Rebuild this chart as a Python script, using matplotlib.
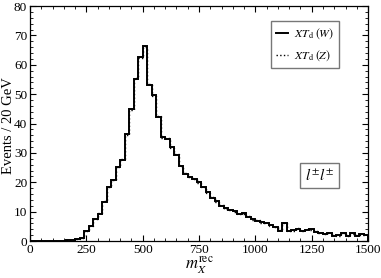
import matplotlib

matplotlib.use("Agg")
import matplotlib.pyplot as plt  # noqa: E402
import numpy as np  # noqa: E402
from matplotlib.ticker import MultipleLocator  # noqa: E402

# 20 GeV bins from 0 to 1500
bin_width = 20
bin_edges = np.arange(0, 1500 + bin_width, bin_width)

# XT_d (W)
events_w = [
    0, 0, 0, 0, 0, 0, 0, 0,
    0.2, 0.4, 0.8, 1.1, 3.5, 5.0, 7.6, 9.2, 13.3, 18.5, 20.7, 25.3, 27.6,
    36.5, 44.8, 55.2, 62.6, 66.4, 53.2, 49.6, 42.3, 35.3, 34.8, 32.0, 29.4,
    25.6, 22.8, 21.9, 21.0, 20.0, 18.3, 16.6, 14.7, 13.5, 12.0, 11.1, 10.5,
    10.2, 9.1, 9.5, 8.3, 7.5, 6.9, 6.4, 6.0, 5.4, 4.7, 3.4, 6.2, 3.3, 3.7,
    4.1, 3.5, 3.8, 4.0, 3.2, 2.8, 2.3, 2.8, 1.8, 2.0, 2.6, 1.8, 2.6, 1.8,
    2.4, 2.0,
]
# XT_d (Z), almost on top of the W curve
events_z = [
    0, 0, 0, 0, 0, 0, 0, 0,
    0.2, 0.4, 0.8, 1.2, 3.3, 5.2, 7.4, 9.4, 13.6, 18.3, 20.9, 25.1, 27.8,
    36.2, 44.6, 55.4, 62.4, 66.2, 53.4, 49.4, 42.5, 35.1, 35.0, 31.8, 29.6,
    25.4, 23.0, 21.7, 21.2, 19.8, 18.5, 16.4, 14.9, 13.3, 12.2, 10.9, 10.7,
    10.0, 9.3, 9.3, 8.5, 7.3, 7.1, 6.2, 6.2, 5.2, 4.9, 3.6, 6.0, 3.5, 3.5,
    4.3, 3.3, 4.0, 3.8, 3.4, 2.6, 2.5, 2.6, 2.0, 1.8, 2.8, 1.6, 2.4, 2.0,
    2.2, 2.2,
]

plt.rcParams["font.family"] = "serif"
plt.rcParams["font.serif"] = ["Liberation Serif", "DejaVu Serif"]
plt.rcParams["mathtext.fontset"] = "stix"

fig = plt.figure(figsize=(3.81, 2.78), dpi=100)
ax = fig.add_axes([0.0787, 0.133, 0.8873, 0.845])

ax.stairs(events_z, bin_edges, color="black", linewidth=1.0, linestyle=":",
          label=r"$XT_{\rm d}\;(Z)$")
ax.stairs(events_w, bin_edges, color="black", linewidth=1.4,
          label=r"$XT_{\rm d}\;(W)$")

ax.set_xlim(0, 1500)
ax.set_ylim(0, 80)
ax.xaxis.set_major_locator(MultipleLocator(250))
ax.xaxis.set_minor_locator(MultipleLocator(50))
ax.yaxis.set_major_locator(MultipleLocator(10))
ax.yaxis.set_minor_locator(MultipleLocator(2))
ax.tick_params(which="both", direction="in", top=True, right=True, labelsize=9.5, pad=2)
ax.tick_params(which="major", length=4, width=0.8)
ax.tick_params(which="minor", length=2, width=0.6)
for spine in ax.spines.values():
    spine.set_linewidth(0.9)

ax.set_ylabel("Events / 20 GeV", fontsize=10.5)
ax.yaxis.set_label_coords(-0.043, 0.49)
ax.set_xlabel(r"$m_X^{\rm rec}$", fontsize=12, labelpad=-1)

handles, labels = ax.get_legend_handles_labels()
leg = ax.legend(handles[::-1], labels[::-1], loc="upper right",
                bbox_to_anchor=(0.915, 0.935), fontsize=8.5, frameon=True,
                fancybox=False, edgecolor="#777777", framealpha=1,
                handlelength=1.0, handletextpad=0.5, borderpad=0.45,
                labelspacing=0.6, borderaxespad=0)
leg.get_frame().set_linewidth(1.0)

ax.text(0.9, 0.279, r"$l^{\pm}l^{\pm}$", transform=ax.transAxes, fontsize=11,
        ha="right", va="center",
        bbox=dict(boxstyle="square,pad=0.3", facecolor="white", edgecolor="#777777",
                  linewidth=1.0))

fig.savefig("out.png", dpi=100)
